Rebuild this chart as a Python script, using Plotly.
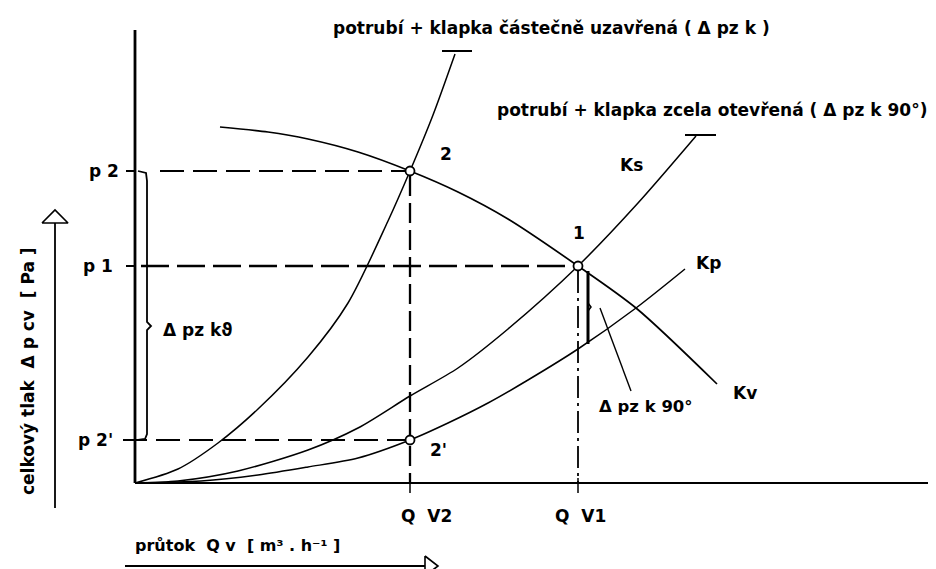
import plotly.graph_objects as go

# ---- data (schematic units: flow Q, pressure p) ----
Q_V2 = 2.75
Q_V1 = 4.43
p_2 = 3.12
p_1 = 2.17
p_2c = 0.43

# fan characteristic Kv
kv_q = [0.85, 1.33, 1.73, 2.23, 2.75, 3.23, 3.73, 4.43, 5.01, 5.82]
kv_p = [3.56, 3.51, 3.44, 3.31, 3.12, 2.91, 2.64, 2.17, 1.75, 0.99]

# pipe + damper fully open Ks
ks_q = [0, 0.43, 1.03, 1.73, 2.23, 2.75, 3.23, 3.73, 4.43, 5.03, 5.61]
ks_p = [0, 0.02, 0.12, 0.33, 0.55, 0.87, 1.15, 1.54, 2.17, 2.80, 3.47]

# pipe only Kp
kp_q = [0, 0.66, 1.23, 1.73, 2.23, 2.75, 3.13, 3.53, 3.93, 4.43, 5.01, 5.50]
kp_p = [0, 0.02, 0.08, 0.16, 0.25, 0.43, 0.60, 0.80, 1.03, 1.34, 1.75, 2.14]

# pipe + damper partially closed
kz_q = [0, 0.43, 0.83, 1.23, 1.73, 2.13, 2.53, 2.75, 2.98, 3.20]
kz_p = [0, 0.14, 0.40, 0.74, 1.26, 1.80, 2.62, 3.12, 3.68, 4.29]

x_axis_end = 7.93
y_axis_end = 4.53

FONT = "DejaVu Sans"
FS = 17
BLACK = "black"

fig = go.Figure()


def add_line(x, y, width=1.4, dash=None, spline=False, fill=None):
    fig.add_trace(go.Scatter(
        x=x, y=y, mode="lines",
        line=dict(color=BLACK, width=width, dash=dash,
                  shape="spline" if spline else "linear", smoothing=0.8),
        fill=fill, fillcolor="white" if fill else None,
        hoverinfo="skip", showlegend=False))


# curves
add_line(kv_q, kv_p, 1.7, spline=True)
add_line(ks_q, ks_p, 1.5, spline=True)
add_line(kp_q, kp_p, 1.5, spline=True)
add_line(kz_q, kz_p, 1.5, spline=True)

# end bars of curves
add_line([ks_q[-1] - 0.11, ks_q[-1] + 0.20], [ks_p[-1] + 0.01] * 2, 2)
add_line([kz_q[-1] - 0.13, kz_q[-1] + 0.17], [kz_p[-1] + 0.03] * 2, 2)

# axes
add_line([0, x_axis_end], [0, 0], 2.2)
add_line([0, 0], [0, y_axis_end], 2.8)

# ticks
for pv in (p_2, p_1, p_2c):
    add_line([-0.09, 0], [pv, pv], 2)
for qv in (Q_V2, Q_V1):
    add_line([qv, qv], [0.05, -0.10], 1.5)

# dashed helper lines
add_line([0.25, Q_V2 - 0.05], [p_2, p_2], 1.9, dash="24px,9px")
add_line([0.06, Q_V1 - 0.05], [p_1, p_1], 2.3, dash="28px,8px")
add_line([-0.12, Q_V2 - 0.05], [p_2c, p_2c], 1.9, dash="24px,9px")
add_line([Q_V2, Q_V2], [p_2 - 0.05, 0], 2.3, dash="20px,7px")
add_line([Q_V1, Q_V1], [p_1 - 0.05, 0], 1.8, dash="22px,5px,3px,5px")

# left bracket (delta p z k theta)
mid = 1.57
add_line([0.03, 0.11, 0.12, 0.12, 0.16, 0.12, 0.12, 0.10, 0.03],
         [p_2, p_2 - 0.02, p_2 - 0.10, mid + 0.04, mid, mid - 0.04,
          p_2c + 0.06, p_2c + 0.01, p_2c], 1.8)

# right bracket (delta p z k 90)
kp_at_q1 = kp_p[kp_q.index(Q_V1)]
add_line([Q_V1 + 0.10, Q_V1 + 0.10], [p_1 - 0.05, kp_at_q1 + 0.05], 3)
add_line([Q_V1 + 0.10, Q_V1 + 0.13, Q_V1 + 0.10],
         [1.80, 1.76, 1.72], 1.5)
add_line([4.65, 4.96], [1.75, 0.92], 1.4)

# operating points
fig.add_trace(go.Scatter(
    x=[Q_V2, Q_V1, Q_V2], y=[p_2, p_1, p_2c], mode="markers",
    marker=dict(symbol="circle", size=9, color="white",
                line=dict(color=BLACK, width=1.8)),
    hoverinfo="skip", showlegend=False))

# axis arrows
add_line([-0.80, -0.80], [-0.25, 2.60], 1.8)
add_line([-0.93, -0.67, -0.80, -0.93], [2.60, 2.60, 2.73, 2.60], 1.6, fill="toself")
add_line([-0.10, 2.90], [-0.83, -0.83], 2)
add_line([2.90, 2.90, 3.03, 2.90], [-0.73, -0.93, -0.83, -0.73], 1.6, fill="toself")


def label(x, y, text, size=FS, xanchor="center", angle=0):
    fig.add_annotation(x=x, y=y, xref="x", yref="y", text="<b>" + text + "</b>",
                       showarrow=False, xanchor=xanchor, yanchor="middle",
                       textangle=angle,
                       font=dict(family=FONT, size=size, color=BLACK))


label(1.96, 4.55, "potrubí + klapka částečně uzavřená ( Δ pz k )", FS, "left")
label(3.60, 3.73, "potrubí + klapka zcela otevřená ( Δ pz k 90°)", FS, "left")
label(3.11, 3.29, "2")
label(4.44, 2.50, "1")
label(3.03, 0.33, "2'")
label(4.96, 3.18, "Ks")
label(5.73, 2.20, "Kp")
label(6.10, 0.90, "Kv")
label(5.11, 0.77, "Δ pz k 90°", 16.5)
label(0.26, 1.53, "Δ pz kϑ", FS, "left")
label(-0.14, p_2, "p 2", FS, "right")
label(-0.20, p_1, "p 1", FS, "right")
label(-0.20, p_2c, "p 2'", FS, "right")
label(Q_V2 + 0.16, -0.33, "Q  V2")
label(Q_V1 + 0.02, -0.33, "Q  V1")
label(-0.02, -0.62, "průtok  Q v  [ m³ . h⁻¹ ]", 16, "left")
label(-1.07, 1.12, "celkový tlak  Δ p cv  [ Pa ]", FS, angle=-90)

fig.update_layout(
    width=936, height=569,
    margin=dict(l=0, r=0, t=0, b=0),
    paper_bgcolor="white", plot_bgcolor="white",
    xaxis=dict(range=[-1.27, 8.09], visible=False, fixedrange=True),
    yaxis=dict(range=[-0.94, 4.75], visible=False, fixedrange=True),
)

fig.write_html("out.html")
